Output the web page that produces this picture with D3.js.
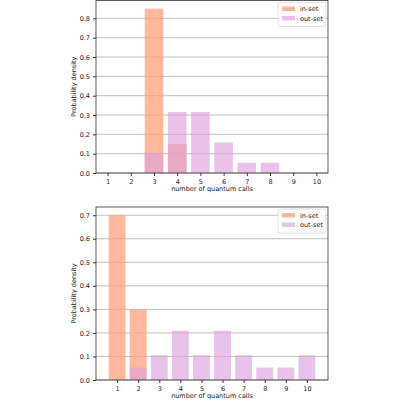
<!DOCTYPE html><html><head><script src="https://cdn.jsdelivr.net/npm/d3@7"></script>
<style>body{margin:0;background:#fff}text{font-family:"DejaVu Sans";}</style></head><body><svg width="400" height="400"></svg>
<script>
const categories=[1,2,3,4,5,6,7,8,9,10];
const topIn=[0,0,0.85,0.15,0,0,0,0,0,0];
const topOut=[0,0,0.105,0.316,0.316,0.158,0.053,0.053,0,0];
const botIn=[0.7,0.3,0,0,0,0,0,0,0,0];
const botOut=[0,0.053,0.105,0.21,0.105,0.21,0.105,0.053,0.053,0.105];
const topTicks=[0,0.1,0.2,0.3,0.4,0.5,0.6,0.7,0.8];
const botTicks=[0,0.1,0.2,0.3,0.4,0.5,0.6,0.7];
const svg=d3.select("svg");
function panel(top,bottom,xd,ymax,ticks,inV,outV){
  const x=d3.scaleLinear().domain(xd).range([96,328]);
  const y=d3.scaleLinear().domain([0,ymax]).range([bottom,top]);
  const g=svg.append("g");
  const step=x(2)-x(1), bw=step*0.8;
  g.selectAll(".gl").data(ticks).enter().append("line").attr("x1",96).attr("x2",328)
   .attr("y1",d=>y(d)).attr("y2",d=>y(d)).attr("stroke","#b0b0b0").attr("stroke-width",0.8);
  const series=[[inV,"#ffa07a",0.75],[outV,"#dda0dd",0.65]];
  series.forEach(([v,c,o])=>{
    g.selectAll(null).data(categories).enter().append("rect")
     .attr("x",d=>x(d)-bw/2).attr("width",bw)
     .attr("y",(d,i)=>y(v[i])).attr("height",(d,i)=>bottom-y(v[i]))
     .attr("fill",c).attr("fill-opacity",o);
  });
  g.append("rect").attr("x",96).attr("y",top).attr("width",232).attr("height",bottom-top)
   .attr("fill","none").attr("stroke","#333").attr("stroke-width",0.8);
  const ya=g.append("g").attr("transform","translate(96,0)").call(d3.axisLeft(y).tickValues(ticks).tickFormat(d3.format(".1f")).tickSize(3).tickSizeOuter(0));
  const xa=g.append("g").attr("transform",`translate(0,${bottom})`).call(d3.axisBottom(x).tickValues(categories).tickSize(3).tickSizeOuter(0));
  [ya,xa].forEach(a=>{a.select(".domain").remove();a.selectAll("text").attr("font-size",6.5).attr("fill","#222").attr("font-family","DejaVu Sans");a.selectAll("line").attr("stroke","#333");});
  g.append("text").attr("x",212).attr("y",bottom+18).attr("text-anchor","middle").attr("font-size",6.5).attr("fill","#222").text("number of quantum calls");
  g.append("text").attr("transform",`translate(76,${(top+bottom)/2}) rotate(-90)`).attr("text-anchor","middle").attr("font-size",6.5).attr("fill","#222").text("Probability density");
  const lg=g.append("g").attr("transform",`translate(278,${top+2})`);
  lg.append("rect").attr("width",48).attr("height",24).attr("rx",2).attr("fill","#fff").attr("fill-opacity",0.8).attr("stroke","#ccc").attr("stroke-width",0.6);
  [["in-set","#ffa07a",0.75],["out-set","#dda0dd",0.65]].forEach(([t,c,o],i)=>{
    lg.append("rect").attr("x",4).attr("y",4+i*9.5).attr("width",13).attr("height",4.5).attr("fill",c).attr("fill-opacity",o);
    lg.append("text").attr("x",22).attr("y",8.5+i*9.5).attr("font-size",6.5).attr("fill","#222").text(t);
  });
}
panel(0.5,173,[0.5,10.5],0.8925,topTicks,topIn,topOut);
panel(207,380,[0,11],0.735,botTicks,botIn,botOut);
</script></body></html>
